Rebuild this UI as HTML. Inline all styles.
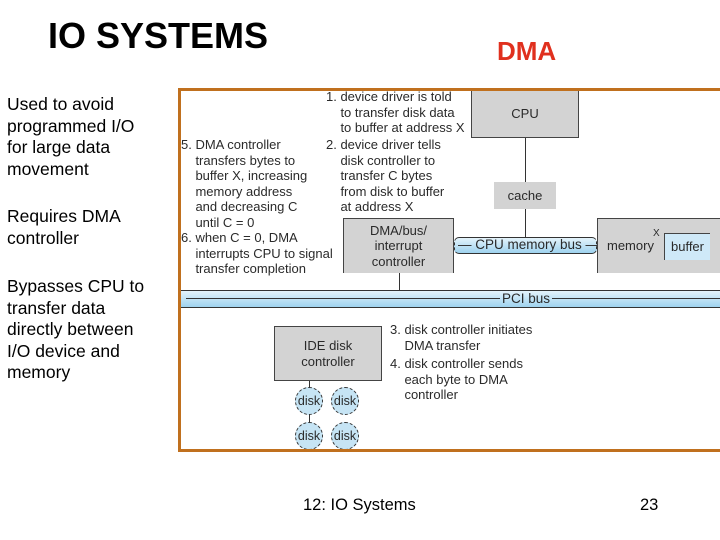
<!DOCTYPE html>
<html><head><meta charset="utf-8"><style>
body{margin:0;width:720px;height:540px;background:#fff;position:relative;overflow:hidden;font-family:"Liberation Sans",Arial,sans-serif}
.a{position:absolute;white-space:nowrap}
.l{font-size:17.5px;line-height:21.5px;color:#000}
.d{font-size:13px;line-height:15.5px;color:#2a2a2a}
.box{position:absolute;background:#d3d3d3;border:1px solid #444;box-sizing:border-box;display:flex;align-items:center;justify-content:center;text-align:center;font-size:13px;line-height:15.5px;color:#2a2a2a}
.disk{position:absolute;width:28px;height:28px;border-radius:50%;background:#c6e4f4;border:1px dashed #333;box-sizing:border-box;font-size:12.5px;line-height:26px;text-align:center;color:#2a2a2a}
</style></head><body>
<div class="a" style="left:48px;top:15px;font-size:36px;font-weight:bold;line-height:42px">IO SYSTEMS</div>
<div class="a" style="left:497px;top:36px;font-size:26px;font-weight:bold;color:#e0301e;line-height:30px">DMA</div>
<div class="a l" style="left:7px;top:94px">Used to avoid<br>programmed I/O<br>for large data<br>movement</div>
<div class="a l" style="left:7px;top:206px">Requires DMA<br>controller</div>
<div class="a l" style="left:7px;top:276px">Bypasses CPU to<br>transfer data<br>directly between<br>I/O device and<br>memory</div>

<div class="box" style="left:471px;top:91px;width:108px;height:47px;border-top:none">CPU</div>
<div class="a" style="left:525px;top:138px;width:1px;height:99px;background:#333"></div>
<div class="box" style="left:494px;top:182px;width:62px;height:27px;border:none">cache</div>
<div class="box" style="left:343px;top:218px;width:111px;height:55px;border-bottom:none">DMA/bus/<br>interrupt<br>controller</div>
<div class="a" style="left:399px;top:273px;width:1px;height:18px;background:#333"></div>
<div class="a" style="left:454px;top:237px;width:143px;height:17px;box-sizing:border-box;background:linear-gradient(#e4f3fb,#9fd3ef);border:1px solid #333;border-radius:5px;border-left-style:dashed;border-right-style:dashed"></div>
<div class="a d" style="left:458px;top:237px;font-size:13.5px">— CPU memory bus —</div>
<div class="box" style="left:597px;top:218px;width:123px;height:55px;border-right:none;border-bottom:none;justify-content:flex-start;padding-left:9px">memory</div>
<div class="a d" style="left:653px;top:228px;font-size:10px;line-height:12px">X</div>
<div class="a" style="left:664px;top:233px;width:46px;height:27px;background:#cfe9f8;border-top:1px solid #444;border-left:1px solid #444;box-sizing:border-box;font-size:13px;line-height:26px;text-align:center;color:#2a2a2a">buffer</div>
<div class="a" style="left:181px;top:290px;width:539px;height:18px;box-sizing:border-box;background:linear-gradient(#e4f3fb,#9fd3ef);border-top:1px solid #333;border-bottom:1px solid #333"></div>
<div class="a" style="left:186px;top:298px;width:314px;height:1px;background:#333"></div>
<div class="a" style="left:552px;top:298px;width:168px;height:1px;background:#333"></div>
<div class="a d" style="left:502px;top:291px;font-size:13.5px">PCI bus</div>
<div class="box" style="left:274px;top:326px;width:108px;height:55px">IDE disk<br>controller</div>
<div class="a" style="left:309px;top:381px;width:1px;height:42px;background:#333"></div>
<div class="disk" style="left:295px;top:387px">disk</div>
<div class="disk" style="left:331px;top:387px">disk</div>
<div class="disk" style="left:295px;top:422px">disk</div>
<div class="disk" style="left:331px;top:422px">disk</div>
<div style="position:absolute;left:178px;top:88px;width:542px;height:364px;box-sizing:border-box;border:3px solid #c0701e;border-right:none;pointer-events:none"></div>

<div class="a d" style="left:326px;top:89px">1. device driver is told<br>&nbsp;&nbsp;&nbsp;&nbsp;to transfer disk data<br>&nbsp;&nbsp;&nbsp;&nbsp;to buffer at address X</div>
<div class="a d" style="left:326px;top:137px">2. device driver tells<br>&nbsp;&nbsp;&nbsp;&nbsp;disk controller to<br>&nbsp;&nbsp;&nbsp;&nbsp;transfer C bytes<br>&nbsp;&nbsp;&nbsp;&nbsp;from disk to buffer<br>&nbsp;&nbsp;&nbsp;&nbsp;at address X</div>
<div class="a d" style="left:181px;top:137px">5. DMA controller<br>&nbsp;&nbsp;&nbsp;&nbsp;transfers bytes to<br>&nbsp;&nbsp;&nbsp;&nbsp;buffer X, increasing<br>&nbsp;&nbsp;&nbsp;&nbsp;memory address<br>&nbsp;&nbsp;&nbsp;&nbsp;and decreasing C<br>&nbsp;&nbsp;&nbsp;&nbsp;until C = 0</div>
<div class="a d" style="left:181px;top:230px">6. when C = 0, DMA<br>&nbsp;&nbsp;&nbsp;&nbsp;interrupts CPU to signal<br>&nbsp;&nbsp;&nbsp;&nbsp;transfer completion</div>
<div class="a d" style="left:390px;top:322px">3. disk controller initiates<br>&nbsp;&nbsp;&nbsp;&nbsp;DMA transfer</div>
<div class="a d" style="left:390px;top:356px">4. disk controller sends<br>&nbsp;&nbsp;&nbsp;&nbsp;each byte to DMA<br>&nbsp;&nbsp;&nbsp;&nbsp;controller</div>

<div class="a" style="left:303px;top:495px;font-size:16.5px;line-height:20px">12: IO Systems</div>
<div class="a" style="left:640px;top:495px;font-size:16.5px;line-height:20px">23</div>
</body></html>
